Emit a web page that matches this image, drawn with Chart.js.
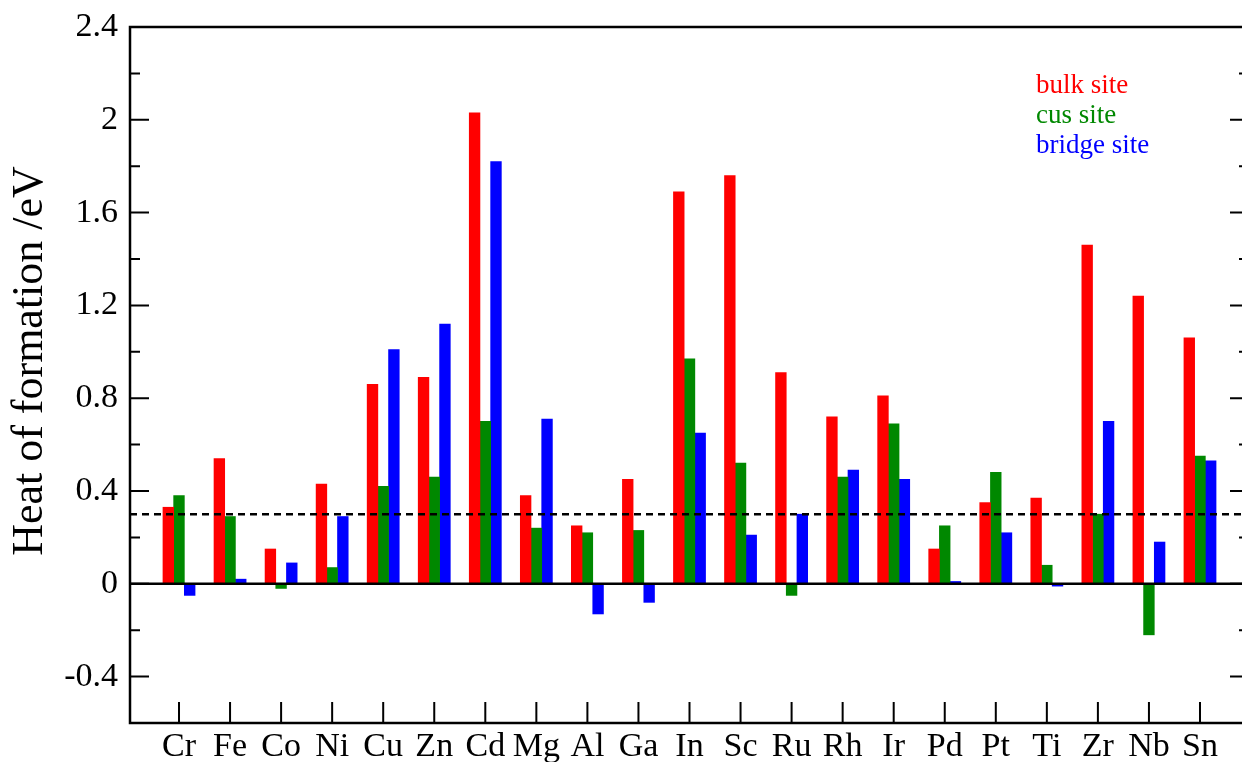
<!DOCTYPE html>
<html>
<head>
<meta charset="utf-8">
<script src="https://cdn.jsdelivr.net/npm/chart.js@4/dist/chart.umd.min.js"></script>
<style>
  html, body { margin: 0; padding: 0; background: #fff; overflow: hidden; }
  canvas { display: block; }
</style>
</head>
<body>
<canvas id="heat" width="1260" height="762"></canvas>
<script>
const elements = ['Cr', 'Fe', 'Co', 'Ni', 'Cu', 'Zn', 'Cd', 'Mg', 'Al', 'Ga', 'In',
  'Sc', 'Ru', 'Rh', 'Ir', 'Pd', 'Pt', 'Ti', 'Zr', 'Nb', 'Sn'];
const bulkSite = [0.33, 0.54, 0.15, 0.43, 0.86, 0.89, 2.03, 0.38, 0.25, 0.45, 1.69,
  1.76, 0.91, 0.72, 0.81, 0.15, 0.35, 0.37, 1.46, 1.24, 1.06];
const cusSite = [0.38, 0.29, -0.02, 0.07, 0.42, 0.46, 0.70, 0.24, 0.22, 0.23, 0.97,
  0.52, -0.05, 0.46, 0.69, 0.25, 0.48, 0.08, 0.30, -0.22, 0.55];
const bridgeSite = [-0.05, 0.02, 0.09, 0.29, 1.01, 1.12, 1.82, 0.71, -0.13, -0.08, 0.65,
  0.21, 0.30, 0.49, 0.45, 0.01, 0.22, -0.01, 0.70, 0.18, 0.53];
const seriesNames = ['bulk site', 'cus site', 'bridge site'];
const seriesColors = ['#ff0000', '#008800', '#0000ff'];
const yTicks = [-0.4, 0, 0.4, 0.8, 1.2, 1.6, 2, 2.4];
const yTickLabels = ['-0.4', '0', '0.4', '0.8', '1.2', '1.6', '2', '2.4'];
const yMinorTicks = [-0.2, 0.2, 0.6, 1.0, 1.4, 1.8, 2.2];
const refLevel = 0.3;
const yTitle = 'Heat of formation /eV';

const serif = '"Liberation Serif", "Times New Roman", serif';

function toPoints(values) {
  return values.map((v, i) => ({ x: i + 1, y: v }));
}

// frame, inward ticks, reference lines, axis title and the coloured legend text
const framePlugin = {
  id: 'frame',
  afterDatasetsDraw(chart) {
    const { ctx, chartArea: a, scales: { x, y } } = chart;
    ctx.save();
    ctx.strokeStyle = '#000';

    ctx.lineWidth = 2.5;
    ctx.setLineDash([7, 5]);
    let py = y.getPixelForValue(refLevel);
    ctx.beginPath();
    ctx.moveTo(a.left, py);
    ctx.lineTo(a.right, py);
    ctx.stroke();
    ctx.setLineDash([]);

    py = y.getPixelForValue(0);
    ctx.beginPath();
    ctx.moveTo(a.left, py);
    ctx.lineTo(a.right, py);
    ctx.stroke();

    ctx.strokeRect(a.left, a.top, a.right - a.left, a.bottom - a.top);

    ctx.lineWidth = 2;
    ctx.beginPath();
    elements.forEach((el, i) => {
      const px = x.getPixelForValue(i + 1);
      ctx.moveTo(px, a.bottom);
      ctx.lineTo(px, a.bottom - 21);
    });
    yTicks.forEach(v => {
      const p = y.getPixelForValue(v);
      ctx.moveTo(a.left, p);
      ctx.lineTo(a.left + 19, p);
      ctx.moveTo(a.right, p);
      ctx.lineTo(a.right - 19, p);
    });
    yMinorTicks.forEach(v => {
      const p = y.getPixelForValue(v);
      ctx.moveTo(a.left, p);
      ctx.lineTo(a.left + 10, p);
      ctx.moveTo(a.right, p);
      ctx.lineTo(a.right - 10, p);
    });
    ctx.stroke();

    // y axis title, rotated
    ctx.save();
    ctx.translate(30, a.top + 334);
    ctx.rotate(-Math.PI / 2);
    ctx.fillStyle = '#000';
    ctx.font = '44px ' + serif;
    ctx.textAlign = 'center';
    ctx.textBaseline = 'middle';
    ctx.fillText(yTitle, 0, 0);
    ctx.restore();

    ctx.font = '27px ' + serif;
    ctx.textAlign = 'left';
    ctx.textBaseline = 'alphabetic';
    seriesNames.forEach((name, i) => {
      ctx.fillStyle = seriesColors[i];
      ctx.fillText(name, a.left + 906, a.top + 66 + i * 30);
    });
    ctx.restore();
  }
};

const ctx = document.getElementById('heat').getContext('2d');
new Chart(ctx, {
  type: 'bar',
  data: {
    datasets: [bulkSite, cusSite, bridgeSite].map((vals, i) => ({
      label: seriesNames[i],
      data: toPoints(vals),
      backgroundColor: seriesColors[i],
      borderWidth: 0,
      barThickness: 10.7
    }))
  },
  options: {
    responsive: false,
    animation: false,
    layout: { padding: { top: 27, right: 11, left: 0, bottom: 0 } },
    plugins: {
      legend: { display: false },
      tooltip: { enabled: false }
    },
    scales: {
      x: {
        type: 'linear',
        offset: false,
        min: 0.04,
        max: 21.96,
        grid: { display: false, drawTicks: false },
        border: { display: false },
        afterBuildTicks: (scale) => {
          scale.ticks = elements.map((el, i) => ({ value: i + 1 }));
        },
        afterFit: (scale) => {
          scale.height = 39;
          scale.paddingLeft = 0;
          scale.paddingRight = 0;
        },
        ticks: {
          autoSkip: false,
          maxRotation: 0,
          padding: 4,
          color: '#000',
          font: { family: serif, size: 34 },
          callback: (value) => elements[value - 1]
        }
      },
      y: {
        min: -0.6,
        max: 2.4,
        grid: { display: false, drawTicks: false },
        border: { display: false },
        afterBuildTicks: (scale) => {
          scale.ticks = yTicks.map(v => ({ value: v }));
        },
        afterFit: (scale) => {
          scale.width = 130;
          scale.paddingTop = 0;
          scale.paddingBottom = 0;
        },
        ticks: {
          padding: 12,
          color: '#000',
          font: { family: serif, size: 34 },
          callback: (value) => yTickLabels[yTicks.indexOf(value)]
        }
      }
    }
  },
  plugins: [framePlugin]
});
</script>
</body>
</html>
